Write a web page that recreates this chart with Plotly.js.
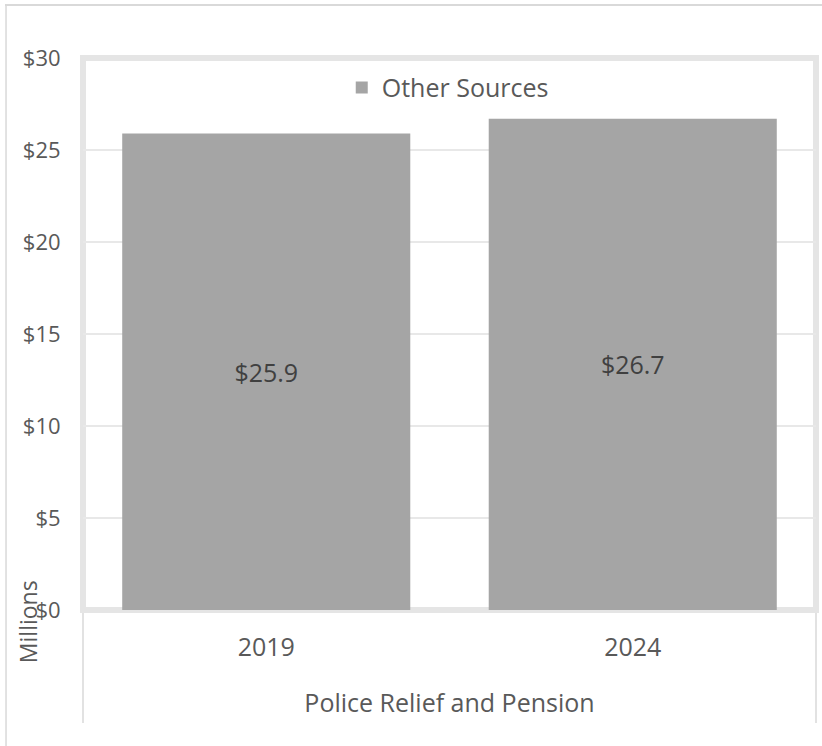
<!DOCTYPE html>
<html>
<head>
<meta charset="utf-8">
<script src="https://cdn.plot.ly/plotly-3.0.1.min.js"></script>
<style>
  html, body { margin: 0; padding: 0; background: #ffffff; }
  #chart { width: 822px; height: 746px; }
</style>
</head>
<body>
<div id="chart"></div>
<script>
// Police Relief and Pension funding, in millions of dollars
const years = ["2019", "2024"];
const otherSources = [25.9, 26.7];
const seriesName = "Other Sources";
const groupLabel = "Police Relief and Pension";
const yTickValues = [0, 5, 10, 15, 20, 25, 30];
const unitLabel = "Millions";

const FONT = "Open Sans, Segoe UI, Arial, sans-serif";
const BAR = "#a5a5a5";
const TEXT = "#595959";
const FRAME = "#e5e5e5";
const RULE = "#d9d9d9";

const trace = {
  type: "bar",
  name: seriesName,
  x: years,
  y: otherSources,
  marker: { color: BAR, line: { width: 0 } },
  text: otherSources.map(v => "$" + v.toFixed(1)),
  textposition: "inside",
  insidetextanchor: "middle",
  textangle: 0,
  textfont: { family: FONT, size: 25, color: "#404040" },
  hoverinfo: "x+y"
};

const layout = {
  width: 822,
  height: 746,
  margin: { l: 83, r: 6, t: 58, b: 136 },
  paper_bgcolor: "#ffffff",
  plot_bgcolor: "#ffffff",
  font: { family: FONT, color: TEXT },
  bargap: 0.214,
  showlegend: true,
  legend: {
    orientation: "h",
    x: 0.353, xanchor: "left",
    y: 0.946, yanchor: "middle",
    font: { family: FONT, size: 25, color: TEXT },
    bgcolor: "rgba(0,0,0,0)",
    itemwidth: 30
  },
  xaxis: {
    type: "category",
    categoryorder: "array",
    categoryarray: years,
    showgrid: false,
    zeroline: false,
    showline: false,
    ticks: "outside",
    ticklen: 15,
    tickcolor: "rgba(0,0,0,0)",
    tickfont: { family: FONT, size: 25, color: TEXT },
    title: {
      text: groupLabel,
      font: { family: FONT, size: 25, color: TEXT },
      standoff: 32
    },
    fixedrange: true
  },
  yaxis: {
    range: [0, 30],
    tickvals: yTickValues,
    ticktext: yTickValues.map(v => "$" + v),
    showgrid: true,
    gridcolor: "#e8e8e8",
    gridwidth: 1.5,
    zeroline: false,
    showline: false,
    ticks: "outside",
    ticklen: 17,
    tickcolor: "rgba(0,0,0,0)",
    tickfont: { family: FONT, size: 22, color: TEXT },
    fixedrange: true
  },
  shapes: [
    // plot-area frame
    { type: "rect", xref: "paper", yref: "paper", x0: 0, x1: 1, y0: 0, y1: 1,
      line: { color: FRAME, width: 6 }, layer: "below" },
    // category dividers under the axis
    { type: "line", xref: "paper", yref: "paper", x0: 0, x1: 0, y0: -0.0054, y1: -0.2047,
      line: { color: RULE, width: 1.5 } },
    { type: "line", xref: "paper", yref: "paper", x0: 1, x1: 1, y0: -0.0054, y1: -0.2047,
      line: { color: RULE, width: 1.5 } },
    // outer chart frame (top and left)
    { type: "line", xref: "paper", yref: "paper", x0: -0.1064, x1: 1.01, y0: 1.096, y1: 1.096,
      line: { color: RULE, width: 2 } },
    { type: "line", xref: "paper", yref: "paper", x0: -0.105, x1: -0.105, y0: 1.096, y1: -0.25,
      line: { color: RULE, width: 1.5 } }
  ],
  annotations: [
    { text: unitLabel, xref: "paper", yref: "paper",
      x: -0.075, y: -0.022, xanchor: "center", yanchor: "middle",
      textangle: -90, showarrow: false,
      font: { family: FONT, size: 23, color: TEXT } }
  ]
};

Plotly.newPlot("chart", [trace], layout, { displayModeBar: false, staticPlot: true });
</script>
</body>
</html>
